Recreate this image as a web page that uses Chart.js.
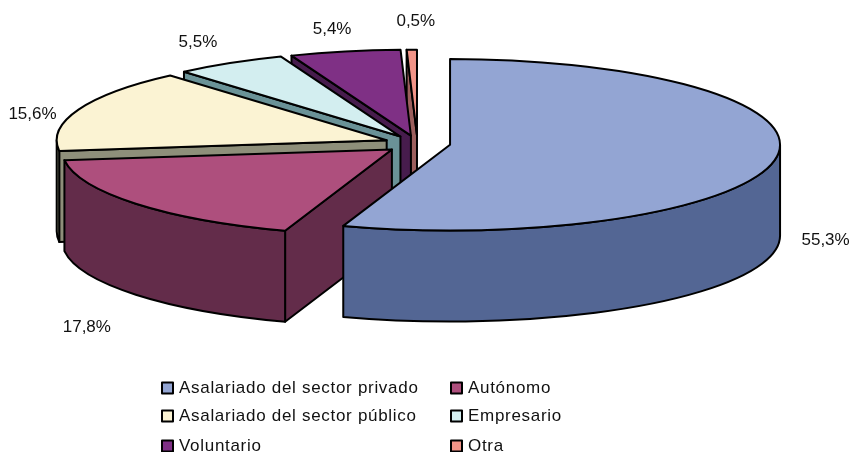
<!DOCTYPE html>
<html>
<head>
<meta charset="utf-8">
<title>Situacion profesional</title>
<script src="https://cdn.jsdelivr.net/npm/chart.js@4/dist/chart.umd.min.js"></script>
<style>
    html, body { margin: 0; padding: 0; background: white; }
    canvas { display: block; }
</style>
</head>
<body>
<canvas id="pie-chart" width="851" height="452"></canvas>
<script>
// Data
const categories = ['Asalariado del sector privado', 'Autónomo', 'Asalariado del sector público', 'Empresario', 'Voluntario', 'Otra'];
const shares = [55.3, 17.8, 15.6, 5.5, 5.4, 0.5];
const topColors = ['#93A5D3', '#AE4F7D', '#FBF3D3', '#D3EEF0', '#7F3085', '#F29488'];
const wallColors = ['#536694', '#632C4A', '#8E8F7A', '#6A9297', '#471C4D', '#9C5F5D'];

// Fake 3D look: squash the pie and pull out the slices
const squash = 0.26;
const depth = 91;
const explodeX = 33;
const explodeFront = 40;
const explodeBack = 29;
const centerY = 143;
// label distance from the rim of each slice
const labelNudge = [[50, 82], [-49, 124], [-46, 5], [-32, -21], [-13, -22], [4, -28]];

function screenY(y) {
    return centerY + (y - centerY) * squash;
}

function slicePath(ctx, arc) {
    const y = screenY(arc.y);
    ctx.beginPath();
    ctx.moveTo(arc.x, y);
    ctx.ellipse(arc.x, y, arc.outerRadius, arc.outerRadius * squash, 0, arc.startAngle, arc.endAngle);
    ctx.closePath();
}

function fillStroke(ctx, color) {
    ctx.fillStyle = color;
    ctx.fill();
    ctx.stroke();
}

function drawWalls(ctx, arc, color) {
    const y = screenY(arc.y);
    const r = arc.outerRadius;
    const ry = r * squash;
    const a = arc.startAngle;
    const b = arc.endAngle;

    // radial face on the start edge, only when it looks to the viewer
    if (Math.cos(a) < 0) {
        ctx.beginPath();
        ctx.moveTo(arc.x, y);
        ctx.lineTo(arc.x + r * Math.cos(a), y + ry * Math.sin(a));
        ctx.lineTo(arc.x + r * Math.cos(a), y + ry * Math.sin(a) + depth);
        ctx.lineTo(arc.x, y + depth);
        ctx.closePath();
        fillStroke(ctx, color);
    }

    // outer wall, front half of the ellipse only
    const from = Math.max(a, 0);
    const to = Math.min(b, Math.PI);
    if (to > from) {
        ctx.beginPath();
        ctx.ellipse(arc.x, y, r, ry, 0, from, to);
        ctx.ellipse(arc.x, y + depth, r, ry, 0, to, from, true);
        ctx.closePath();
        fillStroke(ctx, color);
    }
}

const pie3d = {
    id: 'pie3d',
    afterDatasetsUpdate(chart) {
        const arcs = chart.getDatasetMeta(0).data;
        arcs.forEach(arc => {
            const mid = (arc.startAngle + arc.endAngle) / 2;
            const pull = Math.sin(mid) > 0 ? explodeFront : explodeBack;
            arc.x += Math.cos(mid) * explodeX;
            arc.y += Math.sin(mid) * pull;
        });
    },
    beforeDatasetsDraw(chart) {
        const ctx = chart.ctx;
        const arcs = chart.getDatasetMeta(0).data;
        ctx.save();
        ctx.strokeStyle = 'black';
        ctx.lineWidth = 2;
        ctx.lineJoin = 'round';
        for (let i = arcs.length - 1; i >= 0; i--) {
            drawWalls(ctx, arcs[i], wallColors[i]);
        }
        ctx.restore();

        // tops are drawn by the library inside this transform
        ctx.save();
        ctx.translate(0, centerY);
        ctx.scale(1, squash);
        ctx.translate(0, -centerY);
    },
    afterDatasetsDraw(chart) {
        const ctx = chart.ctx;
        const arcs = chart.getDatasetMeta(0).data;
        ctx.restore();

        ctx.save();
        ctx.strokeStyle = 'black';
        ctx.lineWidth = 2;
        ctx.lineJoin = 'round';
        arcs.forEach(arc => {
            slicePath(ctx, arc);
            ctx.stroke();
        });

        // percentage labels
        ctx.fillStyle = '#111';
        ctx.font = '17px "Liberation Sans"';
        ctx.textAlign = 'center';
        ctx.textBaseline = 'middle';
        arcs.forEach((arc, i) => {
            const mid = (arc.startAngle + arc.endAngle) / 2;
            const x = arc.x + arc.outerRadius * Math.cos(mid) + labelNudge[i][0];
            const y = screenY(arc.y) + arc.outerRadius * squash * Math.sin(mid) + labelNudge[i][1];
            ctx.fillText(shares[i].toFixed(1).replace('.', ',') + '%', x, y);
        });

        // legend, two columns
        ctx.textAlign = 'left';
        ctx.letterSpacing = '0.7px';
        const columns = [162, 451];
        const rows = [388, 416, 446];
        categories.forEach((name, i) => {
            const x = columns[i % 2];
            const y = rows[Math.floor(i / 2)];
            ctx.fillStyle = topColors[i];
            ctx.fillRect(x, y - 5.5, 11, 11);
            ctx.strokeRect(x, y - 5.5, 11, 11);
            ctx.fillStyle = '#111';
            ctx.fillText(name, x + 17, y);
        });
        ctx.restore();
    }
};

const pieChart = new Chart(document.getElementById('pie-chart'), {
    type: 'pie',
    data: {
        labels: categories,
        datasets: [{
            data: shares,
            backgroundColor: topColors,
            borderWidth: 0,
            radius: 330,
            clip: false
        }]
    },
    options: {
        responsive: false,
        animation: false,
        events: [],
        layout: {
            padding: { right: 16, bottom: 166 }
        },
        plugins: {
            legend: { display: false },
            tooltip: { enabled: false }
        }
    },
    plugins: [pie3d]
});
</script>
</body>
</html>
